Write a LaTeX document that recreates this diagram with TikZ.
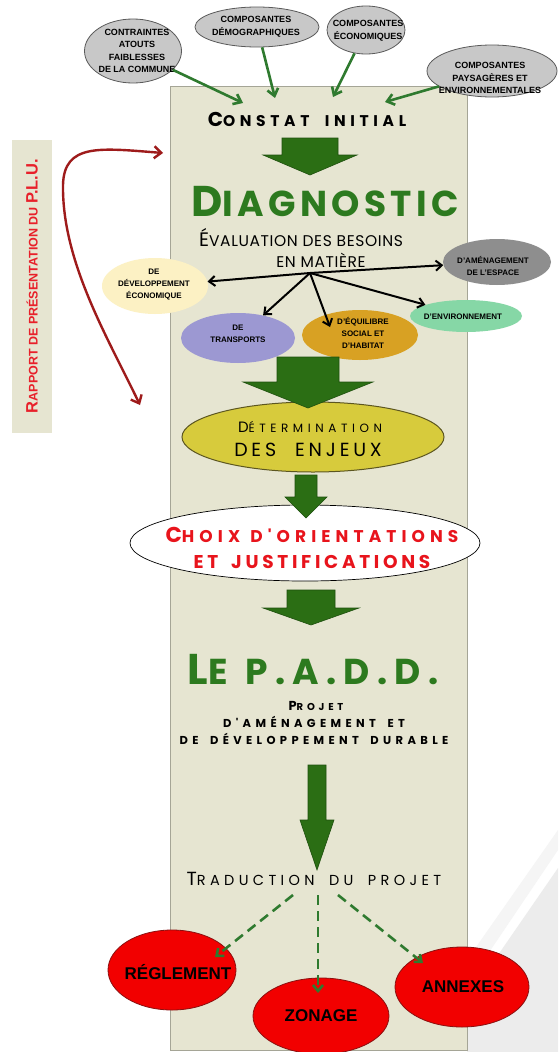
\documentclass[tikz,border=0pt]{standalone}
\usepackage{fontspec}
\setmainfont{Liberation Sans}
\newfontfamily\goth{Poppins}
\newfontfamily\gthE[LetterSpace=4]{Poppins}
\newfontfamily\gthA[LetterSpace=12]{Poppins}
\newfontfamily\gthB[LetterSpace=20]{Poppins}
\newfontfamily\gthC[LetterSpace=30]{Poppins}
\newfontfamily\gthD[LetterSpace=38]{Poppins}
\newcommand\fs[1]{\fontsize{#1}{#1}\selectfont}
\newcommand\wsp{\hspace*{1em}}
\usetikzlibrary{arrows.meta,shapes.geometric}
\definecolor{bgc}{HTML}{E6E5D1}
\definecolor{bgborder}{HTML}{A5A596}
\definecolor{blockgreen}{HTML}{2B6E14}
\definecolor{blockedge}{HTML}{1E4F0E}
\definecolor{titlegreen}{HTML}{2D7A1F}
\definecolor{arrowgreen}{HTML}{2F7A2F}
\definecolor{topgray}{HTML}{C8C8C8}
\definecolor{topedge}{HTML}{5A5A5A}
\definecolor{midgray}{HTML}{8E8E8E}
\definecolor{paleyellow}{HTML}{FCF1C4}
\definecolor{lavender}{HTML}{9C98D2}
\definecolor{goldc}{HTML}{D8A123}
\definecolor{mint}{HTML}{86D7A6}
\definecolor{olive}{HTML}{D7CB3C}
\definecolor{olivedge}{HTML}{5C5620}
\definecolor{redfill}{HTML}{F20000}
\definecolor{rededge}{HTML}{8A1010}
\definecolor{darkred}{HTML}{9E1B1B}
\definecolor{plured}{HTML}{E8202A}
\definecolor{choixred}{HTML}{E8141C}
\definecolor{swoosh}{HTML}{ECECEC}
\tikzset{
  oval/.style={ellipse, inner sep=0pt},
  topoval/.style={oval, fill=topgray, draw=topedge, line width=0.8pt},
  toptext/.style={align=center, font=\bfseries\fontsize{9}{12.6}\selectfont, inner sep=0pt},
  subtext/.style={align=center, font=\bfseries\fontsize{8}{12}\selectfont, inner sep=0pt},
  redtext/.style={font=\bfseries\fontsize{17}{17}\selectfont, inner sep=0pt},
  redoval/.style={oval, fill=redfill, draw=rededge, line width=0.8pt},
  greenarrow/.style={draw=arrowgreen, line width=2.6pt, -{Straight Barb[length=7pt,width=11pt]}},
  hubarrow/.style={draw=black, line width=2pt, -{Straight Barb[length=6pt,width=10pt]}},
  dasharrow/.style={draw=arrowgreen, line width=2.6pt, dash pattern=on 10pt off 6pt, -{Straight Barb[length=6pt,width=10pt]}},
  curvearrow/.style={draw=darkred, line width=2.4pt, {Straight Barb[length=7pt,width=12pt]}-{Straight Barb[length=7pt,width=12pt]}},
  blockarrow/.style={fill=blockgreen, draw=blockedge, line width=0.6pt},
  head/.style={inner sep=0pt}
}
\newcommand\blockarr[6]{%
  \filldraw[blockarrow] ({#1-#5},#2) -- ({#1+#5},#2) -- ({#1+#5},#3) -- ({#1+#6},#3)
    -- (#1,#4) -- ({#1-#6},#3) -- ({#1-#5},#3) -- cycle;}
\begin{document}
\begin{tikzpicture}[x=1pt,y=-1pt]
\useasboundingbox (0,0) rectangle (558,1052);
\fill[white] (0,0) rectangle (558,1052);
% decorative swoosh bottom right
\fill[swoosh] (467,1000) -- (558,868) -- (558,1052) -- (467,1052) -- cycle;
\fill[white!96!black] (467,960) -- (558,830) -- (558,850) -- (467,985) -- cycle;
% left band
\fill[bgc] (12,140) rectangle (52,433);
\node[head, rotate=90, text=plured, font=\bfseries] (rapport) at (32,286)
  {{\fs{16.5}R}{\fs{12.5}APPORT DE PRÉSENTATION DU }{\fs{16.5}P.L.U.}};
% main column
\filldraw[fill=bgc, draw=bgborder, line width=0.8pt] (170,86) rectangle (467,1050);

% top ovals
\node[topoval, minimum width=97pt, minimum height=64pt] (e1) at (133,51) {};
\node[toptext] (t1) at (137,51) {CONTRAINTES\\ATOUTS\\FAIBLESSES\\DE LA COMMUNE};
\node[topoval, minimum width=124pt, minimum height=40pt] (e2) at (257,27) {};
\node[toptext] (t2) at (256,27) {COMPOSANTES\\DÉMOGRAPHIQUES};
\node[topoval, minimum width=78pt, minimum height=48pt] (e3) at (366,30) {};
\node[toptext] (t3) at (368,31) {COMPOSANTES\\ÉCONOMIQUES};
\node[topoval, minimum width=130pt, minimum height=52pt] (e4) at (492,71) {};
\node[toptext] (t4) at (490,78) {COMPOSANTES\\PAYSAGÈRES ET\\ENVIRONNEMENTALES};

% Constat initial
\node[head] (constat) at (307,119) {\gthC\bfseries{\fs{20}C}{\fs{15.5}ONSTAT\wsp INITIAL}};
\draw[greenarrow] (e1) -- ([shift={(-64,-16)}]constat.center);
\draw[greenarrow] (e2) -- ([shift={(-32,-21)}]constat.center);
\draw[greenarrow] (e3) -- ([shift={(26,-22)}]constat.center);
\draw[greenarrow] (e4) -- ([shift={(78,-17)}]constat.center);
\blockarr{310}{138}{155}{175}{28}{47}

% Diagnostic
\node[head, text=titlegreen] (diag) at (325,202) {\gthA\bfseries{\fs{43}D}{\fs{36}IAGNOSTIC}};
\node[head] (eval1) at (301,238) {\gthE{\fs{19.5}É}{\fs{15.5}VALUATION DES BESOINS}};
\node[head] (eval2) at (321,260) {\gthE\fs{15.5}EN MATIÈRE};
\coordinate (hub) at (310,273);

\node[oval, fill=paleyellow, minimum width=106pt, minimum height=56pt] (dev) at (155,286) {};
\node[subtext] (devt) at (154,285) {DE\\DÉVELOPPEMENT\\ÉCONOMIQUE};
\node[oval, fill=midgray, minimum width=108pt, minimum height=46pt] (amen) at (497,262) {};
\node[subtext] (ament) at (493,266) {D'AMÉNAGEMENT\\DE L'ESPACE};
\node[oval, fill=lavender, minimum width=114pt, minimum height=50pt] (trans) at (238,338) {};
\node[subtext] (transt) at (238,334) {DE\\TRANSPORTS};
\node[oval, fill=goldc, minimum width=116pt, minimum height=50pt] (equi) at (360,335) {};
\node[subtext] (equit) at (363,333) {D'ÉQUILIBRE\\SOCIAL ET\\D'HABITAT};
\node[oval, fill=mint, minimum width=112pt, minimum height=32pt] (env) at (466,316) {};
\node[subtext] (envt) at (463,317) {D'ENVIRONNEMENT};

\draw[hubarrow] (hub) -- (dev);
\draw[hubarrow] (hub) -- (amen);
\draw[hubarrow] (hub) -- (trans);
\draw[hubarrow] (hub) -- ([shift={(-30,-8)}]equi.center);
\draw[hubarrow] (hub) -- (env);

% Determination des enjeux
\node[oval, fill=olive, draw=olivedge, line width=1pt, minimum width=262pt, minimum height=70pt] (enj) at (313,437) {};
\node[head] (enj1) at (310,427) {\gthD{\fs{15}D}{\fs{12}ÉTERMINATION}};
\node[head] (enj2) at (308,450) {\gthB\fs{19}DES\wsp ENJEUX};
\blockarr{308}{357}{382}{408}{31}{65}

% Choix
\node[oval, fill=white, draw=black, line width=0.7pt, minimum width=350pt, minimum height=76pt] (choix) at (305,543) {};
\node[head, text=choixred] (ch1) at (312,535) {\gthC\bfseries{\fs{21.5}C}{\fs{17}HOIX\hspace*{0.6em}D'ORIENTATIONS}};
\node[head, text=choixred] (ch2) at (312,562) {\gthB\bfseries\fs{18.5}ET\hspace*{0.7em}JUSTIFICATIONS};
\blockarr{306}{475}{497}{518}{11}{21}
\blockarr{311}{590}{608}{625}{24}{48}

% PADD
\node[head, text=titlegreen] (padd) at (313,670) {\gthB\bfseries{\fs{43}L}{\fs{36}E\hspace*{0.5em}P.A.D.D.}};
\node[head] (p1) at (316,706) {\gthD\bfseries{\fs{13}P}{\fs{10}ROJET}};
\node[head] (p2) at (314,722) {\gthD\bfseries\fs{11.5}D'AMÉNAGEMENT\wsp ET};
\node[head] (p3) at (314,739) {\gthD\bfseries\fs{11.5}DE\wsp DÉVELOPPEMENT\wsp DURABLE};
\blockarr{317}{765}{820}{870}{9}{17}

% Traduction
\node[head] (trad) at (314,879) {\gthC{\fs{19}T}{\fs{14.5}RADUCTION\wsp DU\wsp PROJET}};
\coordinate (s1) at (293,895);
\coordinate (s2) at (318,895);
\coordinate (s3) at (338,895);
\node[redoval, minimum width=128pt, minimum height=80pt] (reg) at (172,970) {};
\node[redtext] (regt) at (178,972) {RÉGLEMENT};
\node[redoval, minimum width=136pt, minimum height=76pt] (zon) at (321,1016) {};
\node[redtext] (zont) at (321,1016) {ZONAGE};
\node[redoval, minimum width=134pt, minimum height=80pt] (ann) at (462,987) {};
\node[redtext] (annt) at (463,987) {ANNEXES};
\draw[dasharrow] (s1) -- ([shift={(43,-13)}]reg.center);
\draw[dasharrow] (s2) -- ([shift={(-3,-23)}]zon.center);
\draw[dasharrow] (s3) -- ([shift={(-39,-24)}]ann.center);

% curved red arrow
\coordinate (ra1) at (163,153);
\coordinate (ra2) at (140,405);
\draw[curvearrow] (ra1) .. controls (100,148) and (64,143) .. (63,185) .. controls (62,262) and (108,338) .. (ra2);
\end{tikzpicture}
\end{document}
